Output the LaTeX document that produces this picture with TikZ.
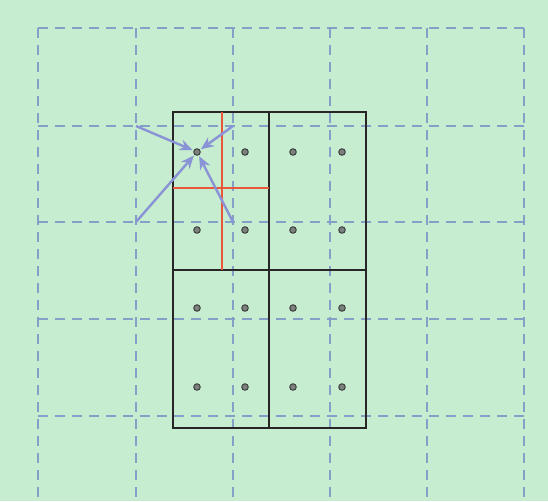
\documentclass[tikz,border=0pt]{standalone}
\usetikzlibrary{arrows.meta}
\definecolor{bg}{HTML}{C6EDCF}
\definecolor{gridc}{HTML}{84A0C8}
\definecolor{redc}{HTML}{E8573C}
\definecolor{arrc}{HTML}{8A93D6}
\definecolor{dotc}{HTML}{7A827C}
\tikzset{
  gridline/.style={gridc, line width=1.8pt, dash pattern=on 10pt off 7pt},
  cell/.style={draw=black!85, line width=2.4pt},
  redline/.style={redc, line width=2.8pt},
  arr/.style={arrc, line width=2.4pt, -{Stealth[length=13pt,width=11pt]}, shorten >=1pt},
  sample/.style={circle, draw=black!75, fill=dotc, inner sep=0pt, minimum size=6.5pt, line width=1pt},
}
\begin{document}
\begin{tikzpicture}[x=1pt,y=-1pt]
\useasboundingbox (0,0) rectangle (548,501);
\fill[bg] (0,0) rectangle (548,501);
% dashed grid
\foreach \x in {38,136,233,330,427,524}
  \draw[gridline] (\x,28) -- (\x,501);
\foreach \y in {28,126,222,319,416}
  \draw[gridline] (38,\y) -- (524,\y);
% cells
\draw[cell] (173,112) rectangle (269,270);
\draw[cell] (269,112) rectangle (366,270);
\draw[cell] (173,270) rectangle (269,428);
\draw[cell] (269,270) rectangle (366,428);
% red lines
\draw[redline] (222,112) -- (222,270);
\draw[redline] (173,188) -- (269,188);
% grid corner coordinates
\coordinate (g1) at (136,126);
\coordinate (g2) at (233,126);
\coordinate (g3) at (136,222);
\coordinate (g4) at (233,222);
% sample dots
\foreach \i/\x in {1/197,2/245,3/293,4/342}
  \foreach \j/\y in {1/152,2/230,3/308,4/387}
    \node[sample] (d\i\j) at (\x,\y) {};
% arrows
\foreach \g in {g1,g2,g3,g4}
  \draw[arr] (\g) -- (d11);
\end{tikzpicture}
\end{document}
